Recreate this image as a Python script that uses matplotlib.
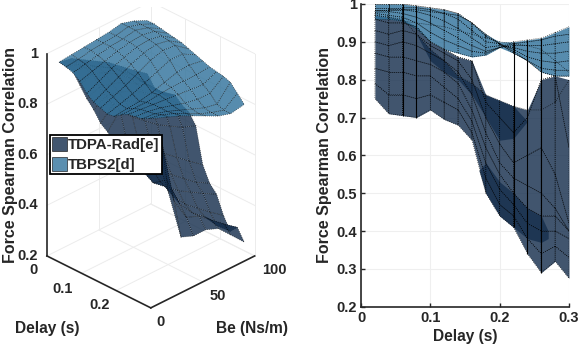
import matplotlib
matplotlib.use('Agg')
import matplotlib.pyplot as plt
import numpy as np
from matplotlib.collections import PolyCollection
from matplotlib.patches import Patch
from mpl_toolkits.mplot3d import proj3d

plt.rcParams['font.family'] = ['Liberation Sans', 'DejaVu Sans']
plt.rcParams['font.weight'] = 'bold'

delay = [.02, .04, .06, .08, .10, .12, .14, .16, .18, .20, .22, .24, .26, .28, .30]
be = [5, 17, 29, 41, 53, 65, 77, 90]

# rows are Be, columns are delay
tbps2 = [
    [.97, .965, .955, .935, .90, .88, .87, .86, .865, .885, .90, .905, .91, .925, .94],
    [.975, .97, .965, .95, .925, .905, .89, .875, .87, .885, .895, .90, .905, .915, .92],
    [.98, .98, .975, .965, .95, .93, .91, .89, .875, .885, .89, .89, .89, .895, .90],
    [.985, .985, .985, .98, .97, .955, .935, .91, .885, .89, .885, .875, .87, .87, .875],
    [.99, .99, .99, .99, .985, .975, .96, .93, .90, .895, .88, .86, .85, .845, .85],
    [1.0, 1.0, 1.0, .995, .99, .985, .975, .95, .915, .895, .875, .85, .83, .825, .825],
    [.985, .985, .985, .985, .98, .975, .97, .95, .92, .895, .87, .85, .82, .81, .81],
    [.96, .96, .955, .95, .945, .94, .93, .92, .91, .90, .895, .89, .88, .85, .82],
]
tdpa = [
    [.97, .965, .96, .92, .88, .85, .81, .79, .76, .745, .73, .72, .72, .74, .80],
    [.96, .95, .95, .94, .90, .88, .86, .85, .74, .70, .66, .70, .80, .81, .62],
    [.93, .92, .93, .92, .89, .87, .85, .80, .70, .63, .58, .60, .62, .55, .42],
    [.90, .89, .90, .89, .87, .85, .82, .76, .66, .58, .54, .52, .50, .46, .40],
    [.87, .86, .86, .85, .84, .82, .79, .72, .62, .55, .50, .46, .44, .44, .40],
    [.83, .82, .82, .81, .81, .78, .75, .69, .58, .51, .47, .42, .40, .40, .38],
    [.79, .76, .76, .75, .76, .74, .72, .66, .54, .47, .44, .38, .34, .36, .33],
    [.75, .71, .705, .70, .72, .695, .68, .64, .50, .44, .41, .34, .29, .32, .275],
]

# darker folds of the TDPA surface as seen side on
fold_x = [.08, .10, .12, .14, .16, .18, .20, .22, .24]
fold_top = [.92, .88, .85, .81, .79, .76, .745, .73, .69]
fold_bot = [.92, .85, .82, .80, .76, .70, .64, .645, .69]
fold2_x = [.17, .18, .20, .22, .24, .26, .27]
fold2_top = [.56, .58, .53, .50, .46, .44, .40]
fold2_bot = [.56, .50, .44, .41, .38, .37, .38]

DARK = '#17304e'
LIGHT = '#32739c'
ALPHA = 0.82
TXT = '#262626'
W, H = 578, 350
FS = 10.5
DOTS = (0, (1, 2))


def left_panel(fig):
    ax = fig.add_axes((-0.0087, 0.096, 0.525, 0.9), projection='3d', computed_zorder=False)
    ax.set_proj_type('ortho')
    ax.view_init(elev=30, azim=-45)
    ax.set_box_aspect((1, 1, 1.59), zoom=1.0)
    ax.set_xlim(0, 0.3)
    ax.set_ylim(0, 100)
    ax.set_zlim(0.2, 1)
    ax.set_axis_off()
    ax.patch.set_alpha(0)

    grid = dict(color='#ececec', lw=0.7, zorder=1)
    for z in [.2, .4, .6, .8, 1]:
        ax.plot([0, 0], [0, 100], [z, z], **grid)
        ax.plot([0, .3], [100, 100], [z, z], **grid)
    for d in [.1, .2, .3]:
        ax.plot([d, d], [0, 100], [.2, .2], **grid)
        ax.plot([d, d], [100, 100], [.2, 1], **grid)
    for b in [50, 100]:
        ax.plot([0, .3], [b, b], [.2, .2], **grid)
        ax.plot([0, 0], [b, b], [.2, 1], **grid)

    X, Y = np.meshgrid(delay, be)
    for vals, col, zo in [(tdpa, DARK, 3), (tbps2, LIGHT, 4)]:
        ax.plot_surface(X, Y, np.array(vals), color=col, alpha=ALPHA, shade=False,
                        edgecolor='k', linewidth=0.5, linestyle=DOTS, rstride=1, cstride=1,
                        zorder=zo)

    axis = dict(color=TXT, lw=1.2, zorder=2)
    ax.plot([0, 0], [0, 0], [.2, 1], **axis)
    ax.plot([0, .3], [0, 0], [.2, .2], **axis)
    ax.plot([.3, .3], [0, 100], [.2, .2], **axis)

    def label(x, y, z, s, dx, dy):
        px, py, _ = proj3d.proj_transform(x, y, z, ax.get_proj())
        ax.annotate(s, xy=(px, py), xytext=(dx, dy), textcoords='offset pixels',
                    ha='center', va='center', fontsize=FS, color=TXT)

    for z, s in zip([.2, .4, .6, .8, 1], ['0.2', '0.4', '0.6', '0.8', '1']):
        label(0, 0, z, s, -19 if s != '1' else -13, 0)
    for d, s, dx, dy in [(0, '0', -13, -14), (.1, '0.1', -19, -16), (.2, '0.2', -17, -14)]:
        label(d, 0, .2, s, dx, dy)
    for b, s, dx, dy in [(0, '0', 10, -14), (50, '50', 15, -14), (100, '100', 20, -14)]:
        label(.3, b, .2, s, dx, dy)

    fig.text(11 / W, 1 - 155 / H, 'Force Spearman Correlation', rotation=90, ha='center',
             va='center', fontsize=FS + 1, color=TXT)
    fig.text(47 / W, 1 - 329 / H, 'Delay (s)', ha='center', va='center', fontsize=FS + 0.7, color=TXT)
    fig.text(252 / W, 1 - 329 / H, 'Be (Ns/m)', ha='center', va='center', fontsize=FS + 0.7, color=TXT)

    handles = [Patch(facecolor='#42566f', edgecolor='k', lw=0.4, label='TDPA-Rad[e]'),
               Patch(facecolor='#5b8fb0', edgecolor='k', lw=0.4, label='TBPS2[d]')]
    leg = fig.legend(handles=handles, loc='upper left', bbox_to_anchor=(50 / W, 1 - 135 / H),
                     fontsize=FS + 0.3, fancybox=False, framealpha=1, edgecolor='k',
                     borderpad=0.15, labelspacing=0.35, handlelength=1.0, handleheight=1.0,
                     handletextpad=0.05, borderaxespad=0)
    leg.get_frame().set_linewidth(1.3)
    for t in leg.get_texts():
        t.set_color(TXT)


def right_panel(fig):
    ax = fig.add_axes((361 / W, 1 - 306.7 / H, 208 / W, 302.7 / H))
    d = np.array(delay)
    for vals, col in [(tdpa, DARK), (tbps2, LIGHT)]:
        v = np.array(vals)
        # single-colour envelope, then the mesh on top of it
        ax.fill_between(d, v.min(axis=0), v.max(axis=0), color=col, alpha=ALPHA, lw=0, zorder=3)
        quads = []
        for i in range(len(be) - 1):
            for j in range(len(delay) - 1):
                quads.append([(d[j], v[i, j]), (d[j + 1], v[i, j + 1]),
                              (d[j + 1], v[i + 1, j + 1]), (d[j], v[i + 1, j])])
        ax.add_collection(PolyCollection(quads, facecolors='none', edgecolors='k',
                                         linewidths=0.5, linestyles=[DOTS], zorder=4))
    ax.fill_between(fold_x, fold_bot, fold_top, color=DARK, alpha=ALPHA, lw=0, zorder=3)
    ax.fill_between(fold2_x, fold2_bot, fold2_top, color=DARK, alpha=ALPHA, lw=0, zorder=3)
    both = np.array(tdpa + tbps2)
    for x in [.06, .08, .22, .24, .26]:
        j = delay.index(x)
        ax.vlines(x, both[:, j].min(), both[:, j].max(), color='k', lw=0.8, zorder=5)

    ax.set_xlim(0, 0.3)
    ax.set_ylim(0.2, 1)
    ax.set_xticks([0, .1, .2, .3], ['0', '0.1', '0.2', '0.3'])
    ax.set_yticks([.2, .3, .4, .5, .6, .7, .8, .9, 1], ['0.2', '0.3', '0.4', '0.5', '0.6', '0.7', '0.8', '0.9', '1'])
    ax.tick_params(direction='in', length=3, width=1, labelsize=FS, colors=TXT, pad=3)
    ax.grid(color='#efefef', lw=0.8)
    ax.set_axisbelow(True)
    ax.spines[['top', 'right']].set_visible(False)
    ax.spines[['left', 'bottom']].set_linewidth(1.2)
    ax.spines[['left', 'bottom']].set_color(TXT)
    ax.set_xlabel('Delay (s)', fontsize=FS + 0.7, color=TXT, labelpad=3, fontweight='bold')
    ax.set_ylabel('Force Spearman Correlation', fontsize=FS + 1, color=TXT, labelpad=3, fontweight='bold')


def main():
    fig = plt.figure(figsize=(W / 100, H / 100), dpi=100)
    left_panel(fig)
    right_panel(fig)
    fig.savefig('out.png', dpi=100)


if __name__ == '__main__':
    main()
